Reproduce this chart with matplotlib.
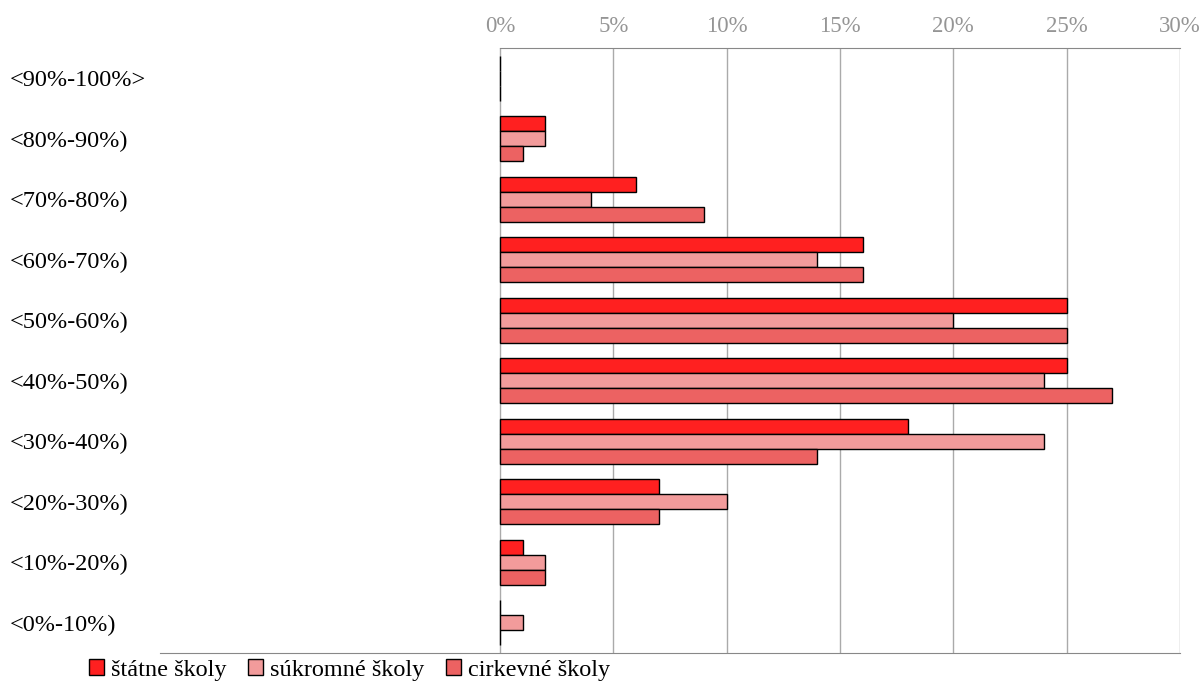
import numpy as np
import matplotlib
matplotlib.use('Agg')
import matplotlib.pyplot as plt

plt.rcParams['font.family'] = ['Liberation Serif', 'DejaVu Serif']

# data (percent), categories from top to bottom
categories = ['<90%-100%>', '<80%-90%)', '<70%-80%)', '<60%-70%)', '<50%-60%)',
              '<40%-50%)', '<30%-40%)', '<20%-30%)', '<10%-20%)', '<0%-10%)']
statne = [0, 2, 6, 16, 25, 25, 18, 7, 1, 0]
sukromne = [0, 2, 4, 14, 20, 24, 24, 10, 2, 1]
cirkevne = [0, 1, 9, 16, 25, 27, 14, 7, 2, 0]
series_names = ['štátne školy', 'súkromné školy', 'cirkevné školy']
colors = ['#ff2020', '#f29b9b', '#ec6262']
xticks = [0, 5, 10, 15, 20, 25, 30]

W, H = 1204, 684
fig = plt.figure(figsize=(W / 100, H / 100), dpi=100)
ax = fig.add_axes([160 / W, (H - 653) / H, 1020 / W, 605 / H])

y = np.arange(len(categories))
bh = 0.25
for i, (vals, name, col) in enumerate(zip([statne, sukromne, cirkevne], series_names, colors)):
    ax.barh(y + (i - 1) * bh, vals, height=bh, color=col, edgecolor='black',
            linewidth=1, label=name, zorder=3)

for t in xticks:
    ax.axvline(t, color='#aaaaaa', lw=1, zorder=1)

ax.set_xlim(-15, 30)
ax.set_ylim(len(categories) - 0.5, -0.5)

ax.xaxis.tick_top()
ax.set_xticks(xticks)
ax.set_xticklabels([f'{t}%' for t in xticks], color='#959595', fontsize=16.5)
ax.tick_params(axis='x', length=0, pad=8)

ax.set_yticks(y)
ax.set_yticklabels(categories, fontsize=17.5)
ax.tick_params(axis='y', length=0, pad=108)
for lab in ax.get_yticklabels():
    lab.set_horizontalalignment('left')

for s in ['left', 'right']:
    ax.spines[s].set_visible(False)
ax.spines['top'].set_bounds(0, 30)
ax.spines['top'].set_color('#888888')
ax.spines['bottom'].set_color('#888888')

fig.legend(loc='center left', bbox_to_anchor=(89 / W, 1 - 670 / H), ncol=3,
           frameon=False, fontsize=17.5, handlelength=0.6, handleheight=0.6,
           handletextpad=0.3, columnspacing=0.9, borderpad=0, borderaxespad=0)

fig.savefig('out.png', dpi=100)
